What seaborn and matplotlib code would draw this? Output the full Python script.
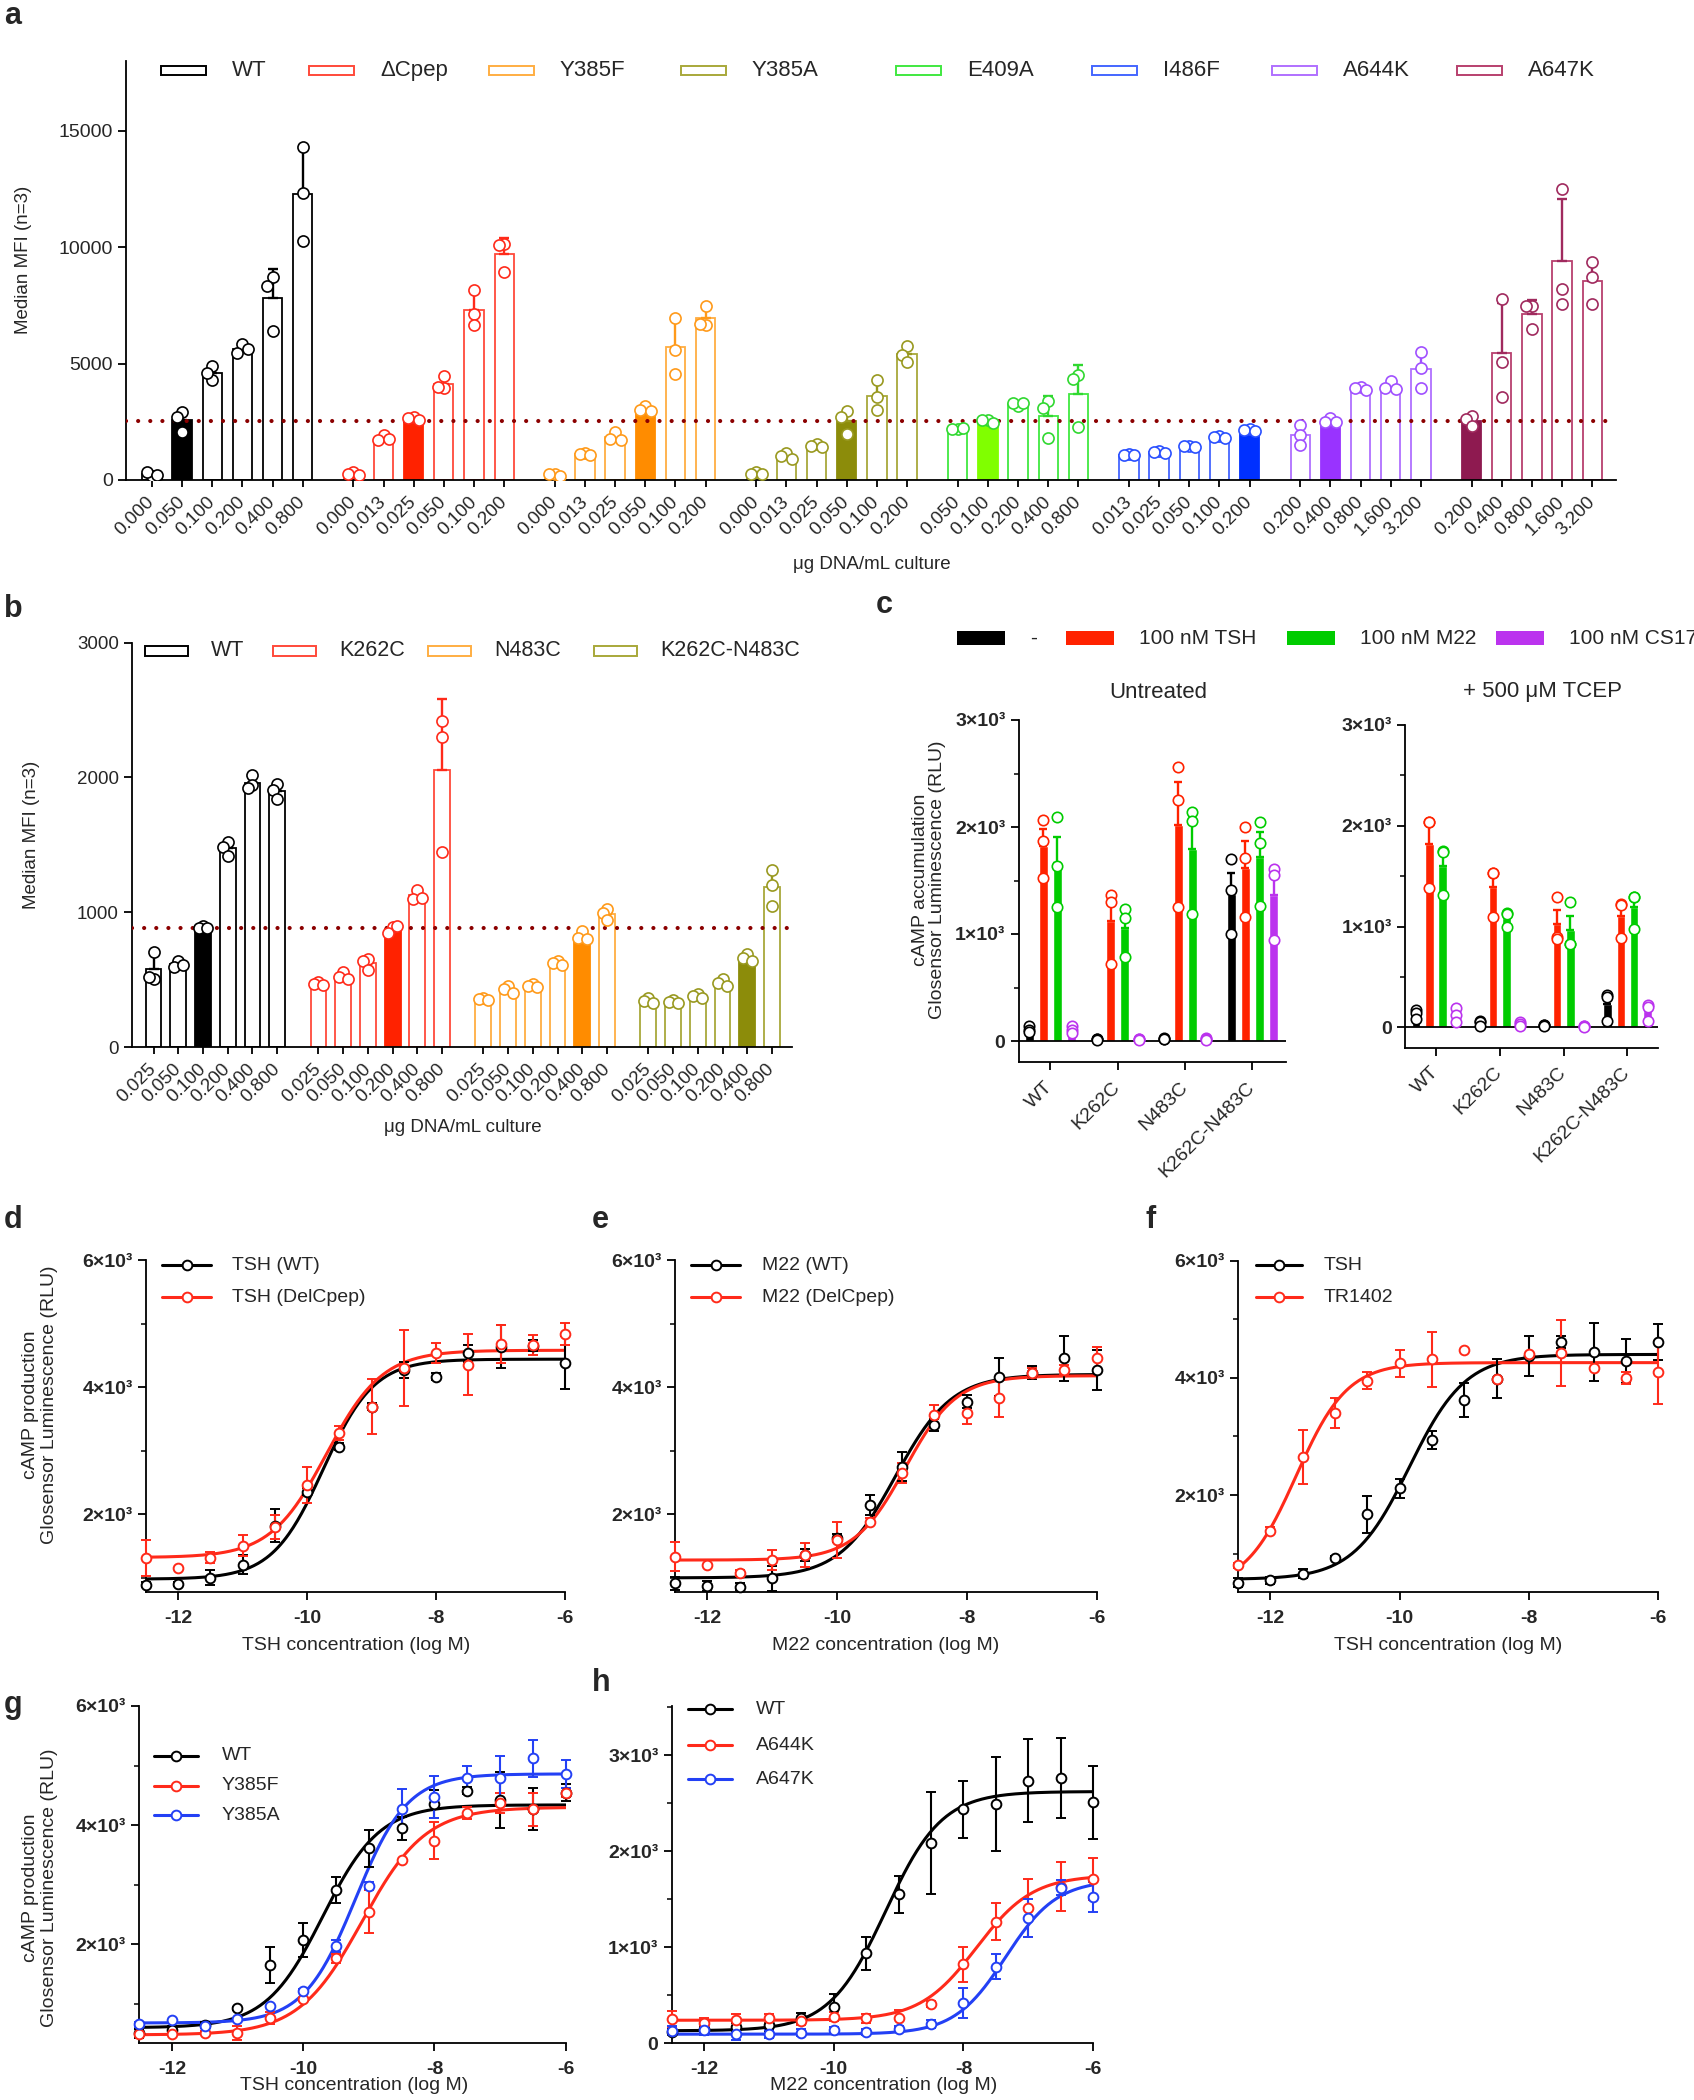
import numpy as np
import pandas as pd
import matplotlib
matplotlib.use("Agg")
import matplotlib.pyplot as plt
import seaborn as sns
from matplotlib.patches import Rectangle
from matplotlib.lines import Line2D
from matplotlib.ticker import FixedLocator

# ============================ DATA ============================
# ---- panel a : median MFI, three replicates per bar ----
A_GROUPS = ["WT", "ΔCpep", "Y385F", "Y385A", "E409A", "I486F", "A644K", "A647K"]
A_DOSE_WT = ["0.000", "0.050", "0.100", "0.200", "0.400", "0.800"]
A_DOSE_DCPEP = ["0.000", "0.013", "0.025", "0.050", "0.100", "0.200"]
A_DOSE_Y385F = ["0.000", "0.013", "0.025", "0.050", "0.100", "0.200"]
A_DOSE_Y385A = ["0.000", "0.013", "0.025", "0.050", "0.100", "0.200"]
A_DOSE_E409A = ["0.050", "0.100", "0.200", "0.400", "0.800"]
A_DOSE_I486F = ["0.013", "0.025", "0.050", "0.100", "0.200"]
A_DOSE_A644K = ["0.200", "0.400", "0.800", "1.600", "3.200"]
A_DOSE_A647K = ["0.200", "0.400", "0.800", "1.600", "3.200"]

A_WT = [[190, 350, 210], [2925, 2700, 2050], [4880, 4280, 4600],
        [5830, 5440, 5630], [8730, 8330, 6380], [14310, 12320, 10270]]
A_DCPEP = [[350, 240, 220], [1940, 1700, 1780], [2700, 2650, 2560],
           [4450, 3960, 4000], [8170, 7120, 6650], [10130, 10100, 8930]]
A_Y385F = [[270, 240, 190], [1145, 1100, 1080], [2080, 1780, 1720],
           [3180, 3000, 2950], [6980, 5600, 4560], [7490, 6660, 6690]]
A_Y385A = [[330, 250, 270], [1145, 1020, 900], [1560, 1480, 1400],
           [2970, 2700, 1990], [4280, 3580, 3020], [5770, 5390, 5050]]
A_E409A = [[2210, 2200, 2230], [2580, 2560, 2450], [3160, 3320, 3300],
           [3400, 3100, 1800], [4520, 4320, 2260]]
A_I486F = [[1120, 1080, 1060], [1240, 1200, 1170], [1480, 1450, 1410],
           [1880, 1850, 1800], [2170, 2130, 2100]]
A_A644K = [[2370, 1940, 1490], [2650, 2500, 2480], [4000, 3960, 3850],
           [4240, 3960, 3930], [5520, 4800, 3960]]
A_A647K = [[2730, 2600, 2310], [7770, 5090, 3560], [7490, 7460, 6470],
           [12480, 8220, 7580], [9360, 8700, 7580]]
A_FILLED = [1, 2, 3, 3, 1, 4, 1, 0]
A_THRESHOLD = 2550

# ---- panel b ----
B_GROUPS = ["WT", "K262C", "N483C", "K262C-N483C"]
B_DOSE = ["0.025", "0.050", "0.100", "0.200", "0.400", "0.800"]
B_WT = [[707, 503, 517], [640, 590, 610], [900, 880, 885],
        [1523, 1483, 1417], [2019, 1940, 1920], [1947, 1907, 1841]]
B_K262C = [[480, 470, 460], [556, 520, 505], [649, 640, 570],
           [887, 848, 900], [1166, 1099, 1107], [2416, 2299, 1444]]
B_N483C = [[365, 358, 352], [456, 430, 400], [469, 456, 445],
           [640, 622, 605], [861, 810, 800], [1020, 994, 941]]
B_KN = [[360, 344, 330], [345, 336, 330], [390, 376, 365],
        [505, 477, 450], [689, 662, 640], [1311, 1205, 1046]]
B_FILLED = [2, 3, 4, 4]
B_THRESHOLD = 885

# ---- panel c : cAMP accumulation (RLU), three replicates ----
C_GROUPS = ["WT", "K262C", "N483C", "K262C-N483C"]
C_TREAT = ["-", "100 nM TSH", "100 nM M22", "100 nM CS17"]
C_U_BASAL = [[136, 107, 80], [20, 15, 10], [25, 18, 15], [1700, 1413, 1002]]
C_U_TSH = [[2068, 1871, 1521], [1360, 1300, 716], [2562, 2254, 1252], [1996, 1710, 1156]]
C_U_M22 = [[2097, 1639, 1252], [1234, 1145, 787], [2140, 2057, 1191], [2043, 1846, 1263]]
C_U_CS17 = [[136, 100, 75], [20, 15, 10], [30, 20, 12], [1603, 1556, 941]]
C_T_BASAL = [[170, 144, 79], [68, 49, 19], [25, 20, 15], [321, 306, 68]]
C_T_TSH = [[2040, 2040, 1380], [1535, 1535, 1096], [1297, 900, 880], [1221, 1210, 888]]
C_T_M22 = [[1750, 1739, 1316], [1138, 1127, 994], [1240, 824, 824], [1297, 1297, 975]]
C_T_CS17 = [[189, 125, 57], [50, 30, 10], [15, 10, 5], [227, 200, 68]]

# ---- panels d-h : concentration-response (mean, error, fitted 4PL parameters) ----
LOGX = [-12.5, -12, -11.5, -11, -10.5, -10, -9.5, -9, -8.5, -8, -7.5, -7, -6.5, -6]

D_WT_MEAN = [889, 904, 1004, 1203, 1817, 2356, 3064, 3693, 4270, 4165, 4532, 4637, 4653, 4385]
D_WT_ERR = [40, 30, 120, 150, 260, 60, 50, 60, 130, 60, 130, 340, 90, 420]
D_DEL_MEAN = [1308, 1151, 1318, 1507, 1806, 2461, 3274, 3693, 4296, 4532, 4349, 4674, 4663, 4836]
D_DEL_ERR = [280, 0, 90, 170, 190, 290, 110, 430, 600, 160, 480, 300, 160, 180]
D_WT_FIT = [980, 4440, -9.75, 1.1]      # bottom, top, logEC50, Hill slope
D_DEL_FIT = [1320, 4580, -9.7, 1.0]

E_WT_MEAN = [915, 873, 862, 993, 1360, 1623, 2147, 2750, 3405, 3772, 4165, 4228, 4454, 4270]
E_WT_ERR = [100, 80, 60, 200, 100, 60, 160, 230, 100, 100, 300, 100, 350, 320]
E_DEL_MEAN = [1334, 1203, 1072, 1282, 1360, 1596, 1885, 2645, 3562, 3588, 3824, 4218, 4270, 4454]
E_DEL_ERR = [230, 0, 50, 160, 190, 290, 60, 160, 160, 160, 300, 80, 80, 170]
E_WT_FIT = [1000, 4200, -9.1, 1.0]
E_DEL_FIT = [1280, 4180, -8.95, 1.1]

F_TSH_MEAN = [503, 543, 657, 931, 1669, 2114, 2943, 3629, 3989, 4371, 4611, 4440, 4286, 4611]
F_TSH_ERR = [80, 60, 80, 30, 310, 160, 150, 290, 340, 340, 100, 490, 370, 310]
F_TR_MEAN = [800, 1389, 2657, 3400, 3954, 4246, 4314, 4474, 3989, 4400, 4429, 4171, 4000, 4097]
F_TR_ERR = [40, 60, 460, 260, 140, 230, 470, 0, 0, 0, 560, 0, 100, 540]
F_TSH_FIT = [560, 4400, -9.85, 1.0]
F_TR_FIT = [400, 4260, -11.6, 1.1]

G_WT_MEAN = [506, 562, 646, 926, 1653, 2073, 2912, 3611, 3947, 4355, 4579, 4422, 4266, 4545]
G_WT_ERR = [80, 60, 50, 30, 308, 280, 224, 308, 196, 238, 60, 476, 355, 140]
G_F_MEAN = [489, 489, 517, 506, 758, 1077, 1765, 2548, 3415, 3740, 4210, 4378, 4266, 4545]
G_F_ERR = [0, 0, 30, 120, 100, 30, 80, 364, 0, 308, 100, 170, 280, 80]
G_A_MEAN = [657, 730, 635, 747, 971, 1222, 1972, 2985, 4271, 4478, 4786, 4786, 5122, 4859]
G_A_ERR = [40, 0, 0, 0, 0, 30, 100, 60, 336, 350, 215, 370, 308, 243]
G_WT_FIT = [600, 4340, -9.7, 1.0]
G_F_FIT = [480, 4300, -9.1, 0.9]
G_A_FIT = [680, 4860, -9.2, 1.1]

H_WT_MEAN = [121, 146, 173, 191, 260, 382, 937, 1550, 2088, 2435, 2490, 2733, 2758, 2508]
H_WT_ERR = [30, 30, 40, 60, 60, 130, 173, 190, 530, 295, 494, 434, 416, 381]
H_644_MEAN = [253, 208, 243, 260, 232, 277, 260, 260, 409, 822, 1266, 1405, 1630, 1710]
H_644_ERR = [80, 60, 60, 50, 40, 50, 50, 90, 30, 180, 190, 300, 255, 217]
H_647_MEAN = [132, 139, 97, 97, 111, 139, 121, 146, 198, 416, 798, 1301, 1620, 1526]
H_647_ERR = [50, 50, 60, 40, 40, 30, 30, 30, 40, 156, 130, 200, 78, 156]
H_WT_FIT = [130, 2620, -9.2, 1.0]
H_644_FIT = [240, 1750, -7.8, 1.0]
H_647_FIT = [95, 1700, -7.35, 1.1]

# ============================ STYLE ============================
sns.set_style("ticks")
plt.rcParams["font.family"] = ["Liberation Sans", "DejaVu Sans"]
plt.rcParams["axes.linewidth"] = 1.3
plt.rcParams["axes.edgecolor"] = "black"

A_EDGE = ["#000000", "#FF4A3A", "#FFAE42", "#A8A83A", "#40E840", "#4466FF", "#B070FF", "#B8406E"]
A_FILL = ["#000000", "#FF2200", "#FF8C00", "#8C8C0A", "#80FF00", "#0030FF", "#9933FF", "#8E1A50"]
A_MARK = ["#000000", "#FF2A1A", "#FF9A1A", "#999920", "#30D830", "#2A50FF", "#A050FF", "#A02A5E"]
B_EDGE = ["#000000", "#FF4A3A", "#FFAE42", "#A8A83A"]
B_FILL = ["#000000", "#FF2200", "#FF8C00", "#8C8C0A"]
B_MARK = ["#000000", "#FF2A1A", "#FF9A1A", "#999920"]
C_COLORS = ["#000000", "#FF2200", "#00CC00", "#BB33EE"]
BLACK, RED, BLUE = "#000000", "#FF2A1A", "#2340F5"
THR_COLOR = "#8B0000"

W, H = 1694, 2100
fig = plt.figure(figsize=(W / 100, H / 100), dpi=100)


def add_ax(x0, y0, x1, y1):
    return fig.add_axes([x0 / W, 1 - y1 / H, (x1 - x0) / W, (y1 - y0) / H])


def ftext(x, y, s, **kw):
    return fig.text(x / W, 1 - y / H, s, **kw)


def style_axes(ax):
    sns.despine(ax=ax)
    for sp in ("left", "bottom"):
        ax.spines[sp].set_linewidth(1.3)
        ax.spines[sp].set_color("black")
    ax.tick_params(axis="both", which="major", direction="out", length=6, width=1.3,
                   color="black", labelsize=14)
    ax.tick_params(axis="both", which="minor", direction="out", length=3.5, width=1.1,
                   color="black")
    ax.set_xlabel("")
    ax.set_ylabel("")
    ax.set_facecolor("none")


def spread_offsets(vals, min_gap, step=0.18):
    """Side-by-side placement of overlapping replicate dots (scatter-dot style)."""
    placed, offs = [], []
    for v in vals:
        chosen = 2 * step
        for cand in (0.0, -step, step, -2 * step, 2 * step):
            if all(not (o == cand and abs(pv - v) < min_gap) for o, pv in placed):
                chosen = cand
                break
        placed.append((chosen, v))
        offs.append(chosen)
    return offs


def draw_bar_groups(ax, doses_list, reps_list, filled, edges, fills, marks, gap, min_gap):
    tick_pos, tick_lab = [], []
    start = 0.0
    for doses, reps, fi, ec, fc, mc in zip(doses_list, reps_list, filled, edges, fills, marks):
        positions = [start + i for i in range(len(doses))]
        df = pd.DataFrame({"pos": np.repeat(positions, [len(r) for r in reps]),
                           "val": np.concatenate(reps)})
        n0 = len(ax.patches)
        sns.barplot(data=df, x="pos", y="val", native_scale=True, errorbar=None,
                    width=0.64, color="white", saturation=1, ax=ax, zorder=1)
        new = sorted(ax.patches[n0:], key=lambda p: p.get_x())
        for k, p in enumerate(new):
            p.set_edgecolor(fc if k == fi else ec)
            p.set_facecolor(fc if k == fi else "white")
            p.set_linewidth(1.3)
        means = [np.mean(r) for r in reps]
        sds = [np.std(r, ddof=1) for r in reps]
        ax.errorbar(positions, means, yerr=[np.zeros(len(sds)), sds], fmt="none",
                    ecolor=mc, elinewidth=1.7, capsize=3.5, capthick=1.7, zorder=2)
        px, py = [], []
        for p, r in zip(positions, reps):
            for o, v in zip(spread_offsets(r, min_gap), r):
                px.append(p + o)
                py.append(v)
        sns.scatterplot(x=px, y=py, color="white", edgecolor=mc, linewidth=1.2, s=64,
                        ax=ax, zorder=4, legend=False)
        tick_pos += positions
        tick_lab += doses
        start = positions[-1] + 1 + gap
    return tick_pos, tick_lab


# ============================ PANEL a ============================
axA = add_ax(126, 61, 1616, 480)
a_doses = [A_DOSE_WT, A_DOSE_DCPEP, A_DOSE_Y385F, A_DOSE_Y385A,
           A_DOSE_E409A, A_DOSE_I486F, A_DOSE_A644K, A_DOSE_A647K]
a_reps = [A_WT, A_DCPEP, A_Y385F, A_Y385A, A_E409A, A_I486F, A_A644K, A_A647K]
tp, tl = draw_bar_groups(axA, a_doses, a_reps, A_FILLED, A_EDGE, A_FILL, A_MARK, 0.68, 420)
axA.axhline(A_THRESHOLD, color=THR_COLOR, lw=3, ls=(0, (0.01, 2.9)),
            dash_capstyle="round", zorder=3)
style_axes(axA)
axA.set_xlim(-0.86, tp[-1] + 0.79)
axA.set_ylim(0, 18000)
axA.set_yticks([0, 5000, 10000, 15000], ["0", "5000", "10000", "15000"], fontsize=14)
axA.set_xticks(tp, tl, rotation=45, ha="right", va="center", rotation_mode="anchor",
               fontsize=13.5)
axA.tick_params(axis="x", pad=9, length=5)
ftext(24, 260, "Median MFI (n=3)", rotation=90, ha="center", va="center", fontsize=13.5)
ftext(872, 565, "μg DNA/mL culture", ha="center", va="center", fontsize=13.5)
a_leg_patch_x = [161, 309, 489, 681, 896, 1092, 1272, 1457]
for name, px, ec in zip(A_GROUPS, a_leg_patch_x, A_EDGE):
    fig.add_artist(Rectangle((px / W, 1 - 75 / H), 45 / W, 9.5 / H, transform=fig.transFigure,
                             facecolor="white", edgecolor=ec, lw=1.4))
    ftext(px + 71, 70.5, name, ha="left", va="center", fontsize=16)

# ============================ PANEL b ============================
axB = add_ax(132, 642.5, 792, 1047)
tp, tl = draw_bar_groups(axB, [B_DOSE] * 4, [B_WT, B_K262C, B_N483C, B_KN], B_FILLED,
                         B_EDGE, B_FILL, B_MARK, 0.67, 70)
axB.axhline(B_THRESHOLD, color=THR_COLOR, lw=3, ls=(0, (0.01, 2.9)),
            dash_capstyle="round", zorder=3)
style_axes(axB)
axB.set_xlim(-0.87, tp[-1] + 0.81)
axB.set_ylim(0, 3000)
axB.set_yticks([0, 1000, 2000, 3000], ["0", "1000", "2000", "3000"], fontsize=13.5)
axB.set_xticks(tp, tl, rotation=45, ha="right", va="center", rotation_mode="anchor",
               fontsize=13.5)
axB.tick_params(axis="x", pad=9, length=5)
ftext(32, 835, "Median MFI (n=3)", rotation=90, ha="center", va="center", fontsize=13.5)
ftext(463, 1127, "μg DNA/mL culture", ha="center", va="center", fontsize=13.5)
b_leg_patch_x = [145, 273, 428, 594]
for name, px, ec in zip(B_GROUPS, b_leg_patch_x, B_EDGE):
    fig.add_artist(Rectangle((px / W, 1 - 655.5 / H), 43 / W, 10 / H, transform=fig.transFigure,
                             facecolor="white", edgecolor=ec, lw=1.4))
    ftext(px + 66, 650.5, name, ha="left", va="center", fontsize=15.5)


# ============================ PANEL c ============================
def draw_c(ax, reps_by_treat):
    rows = []
    for t, reps in zip(C_TREAT, reps_by_treat):
        for g, r in zip(C_GROUPS, reps):
            for v in r:
                rows.append((g, t, v))
    df = pd.DataFrame(rows, columns=["group", "treat", "val"])
    sns.barplot(data=df, x="group", y="val", hue="treat", order=C_GROUPS,
                hue_order=C_TREAT, palette=C_COLORS, errorbar=None, width=0.84,
                gap=0.36, saturation=1, legend=False, ax=ax, zorder=1)
    offsets = [-0.315, -0.105, 0.105, 0.315]
    for ti, (reps, col) in enumerate(zip(reps_by_treat, C_COLORS)):
        xs = np.arange(len(C_GROUPS)) + offsets[ti]
        means = [np.mean(r) for r in reps]
        sems = [np.std(r, ddof=1) / np.sqrt(len(r)) for r in reps]
        ax.errorbar(xs, means, yerr=[np.zeros(len(sems)), sems], fmt="none", ecolor=col,
                    elinewidth=1.7, capsize=3, capthick=1.7, zorder=2)
        for x, r in zip(xs, reps):
            ax.scatter(np.full(len(r), x), r, s=56, facecolor="white", edgecolor=col,
                       linewidths=1.2, zorder=4)
    ax.axhline(0, color="black", lw=1.3, zorder=3)
    style_axes(ax)
    ax.set_ylim(-200, 3000)
    ax.set_yticks([0, 1000, 2000, 3000], ["0", "1×10³", "2×10³", "3×10³"],
                  fontsize=14, fontweight="bold")
    ax.yaxis.set_minor_locator(FixedLocator([500, 1500, 2500]))
    ax.set_xticks(range(len(C_GROUPS)), C_GROUPS, rotation=45, ha="right", va="center",
                  rotation_mode="anchor", fontsize=14)
    ax.tick_params(axis="x", pad=10)


axC1 = add_ax(1018.5, 720, 1285.5, 1062.4)
draw_c(axC1, [C_U_BASAL, C_U_TSH, C_U_M22, C_U_CS17])
axC1.set_xlim(-0.473, 3.49)
axC2 = add_ax(1405, 724.7, 1658, 1047.6)
draw_c(axC2, [C_T_BASAL, C_T_TSH, C_T_M22, C_T_CS17])
axC2.set_xlim(-0.486, 3.478)
ftext(1158, 692, "Untreated", ha="center", va="center", fontsize=16)
ftext(1542, 692, "+ 500 μM TCEP", ha="center", va="center", fontsize=16)
ftext(929, 880, "cAMP accumulation\nGlosensor Luminescence (RLU)", rotation=90,
      ha="center", va="center", fontsize=14, linespacing=1.05)
c_leg_patch_x = [957, 1066, 1287, 1496]
for name, px, col in zip(C_TREAT, c_leg_patch_x, C_COLORS):
    fig.add_artist(Rectangle((px / W, 1 - 645.5 / H), 48 / W, 14 / H, transform=fig.transFigure,
                             facecolor=col, edgecolor=col, lw=0))
    ftext(px + 73, 638.5, name, ha="left", va="center", fontsize=15)


# ============================ PANELS d-h ============================
def draw_dr(ax, series, ylim, yticks, ylabels, yminor):
    xs = np.linspace(LOGX[0], LOGX[-1], 300)
    for mean, err, fit, col in series:
        b, t, ec50, hs = fit
        yfit = b + (t - b) / (1 + 10 ** ((ec50 - xs) * hs))
        sns.lineplot(x=xs, y=yfit, color=col, lw=2.2, ax=ax, zorder=2)
        ax.errorbar(LOGX, mean, yerr=err, fmt="o", ms=7, mfc="white", mec=col, mew=1.4,
                    ecolor=col, elinewidth=1.5, capsize=3.5, capthick=1.5, zorder=3,
                    clip_on=False)
    style_axes(ax)
    ax.set_xlim(LOGX[0], LOGX[-1])
    ax.set_ylim(*ylim)
    ax.set_xticks([-12, -10, -8, -6], ["-12", "-10", "-8", "-6"], fontsize=14,
                  fontweight="bold")
    ax.set_yticks(yticks, ylabels, fontsize=14, fontweight="bold")
    ax.yaxis.set_minor_locator(FixedLocator(yminor))
    ax.tick_params(axis="x", pad=7)


def dr_legend(x_line, x_text, ys, names, cols):
    for y, name, col in zip(ys, names, cols):
        fy = 1 - y / H
        fig.add_artist(Line2D([x_line[0] / W, (x_line[0] + x_line[1]) / 2 / W, x_line[1] / W],
                              [fy, fy, fy], transform=fig.transFigure, color=col, lw=2.2,
                              marker="o", markevery=[1], ms=7, mfc="white", mec=col, mew=1.4))
        ftext(x_text, y, name, ha="left", va="center", fontsize=14)


T6 = ([2000, 4000, 6000], ["2×10³", "4×10³", "6×10³"])

axD = add_ax(146, 1260, 565, 1592.3)
draw_dr(axD, [(D_WT_MEAN, D_WT_ERR, D_WT_FIT, BLACK), (D_DEL_MEAN, D_DEL_ERR, D_DEL_FIT, RED)],
        (773, 6000), *T6, [1000, 3000, 5000])
dr_legend((162, 211), 232, [1265, 1297], ["TSH (WT)", "TSH (DelCpep)"], [BLACK, RED])
ftext(356, 1645, "TSH concentration (log M)", ha="center", va="center", fontsize=14)

axE = add_ax(675, 1260, 1096.6, 1592.3)
draw_dr(axE, [(E_WT_MEAN, E_WT_ERR, E_WT_FIT, BLACK), (E_DEL_MEAN, E_DEL_ERR, E_DEL_FIT, RED)],
        (773, 6000), *T6, [1000, 3000, 5000])
dr_legend((691, 740), 762, [1265, 1297], ["M22 (WT)", "M22 (DelCpep)"], [BLACK, RED])
ftext(886, 1645, "M22 concentration (log M)", ha="center", va="center", fontsize=14)

axF = add_ax(1238, 1260.7, 1658.4, 1592.3)
draw_dr(axF, [(F_TSH_MEAN, F_TSH_ERR, F_TSH_FIT, BLACK), (F_TR_MEAN, F_TR_ERR, F_TR_FIT, RED)],
        (340, 6000), *T6, [1000, 3000, 5000])
dr_legend((1256, 1302), 1324, [1265, 1297], ["TSH", "TR1402"], [BLACK, RED])
ftext(1448, 1645, "TSH concentration (log M)", ha="center", va="center", fontsize=14)

ftext(40, 1405, "cAMP production\nGlosensor Luminescence (RLU)", rotation=90,
      ha="center", va="center", fontsize=14, linespacing=1.15)

axG = add_ax(139, 1706, 565.8, 2043.3)
draw_dr(axG, [(G_WT_MEAN, G_WT_ERR, G_WT_FIT, BLACK), (G_F_MEAN, G_F_ERR, G_F_FIT, RED),
              (G_A_MEAN, G_A_ERR, G_A_FIT, BLUE)],
        (339, 6000), *T6, [1000, 3000, 5000])
dr_legend((154, 198), 222, [1756, 1786, 1815], ["WT", "Y385F", "Y385A"], [BLACK, RED, BLUE])
ftext(354, 2085, "TSH concentration (log M)", ha="center", va="center", fontsize=14)
ftext(40, 1888, "cAMP production\nGlosensor Luminescence (RLU)", rotation=90,
      ha="center", va="center", fontsize=14, linespacing=1.15)

axH = add_ax(671.6, 1706, 1093.2, 2043.3)
draw_dr(axH, [(H_WT_MEAN, H_WT_ERR, H_WT_FIT, BLACK), (H_644_MEAN, H_644_ERR, H_644_FIT, RED),
              (H_647_MEAN, H_647_ERR, H_647_FIT, BLUE)],
        (0, 3510), [0, 1000, 2000, 3000], ["0", "1×10³", "2×10³", "3×10³"],
        [500, 1500, 2500, 3500])
dr_legend((688, 732), 756, [1709, 1745, 1779], ["WT", "A644K", "A647K"], [BLACK, RED, BLUE])
ftext(884, 2085, "M22 concentration (log M)", ha="center", va="center", fontsize=14)

# ============================ panel letters ============================
for letter, (x, y) in {"a": (13, 16), "b": (13, 609), "c": (884, 605), "d": (13, 1220),
                       "e": (600, 1220), "f": (1151, 1220), "g": (13, 1705),
                       "h": (601, 1683)}.items():
    ftext(x, y, letter, ha="center", va="center", fontsize=22, fontweight="bold")

fig.savefig("out.png", dpi=100, facecolor="white")
